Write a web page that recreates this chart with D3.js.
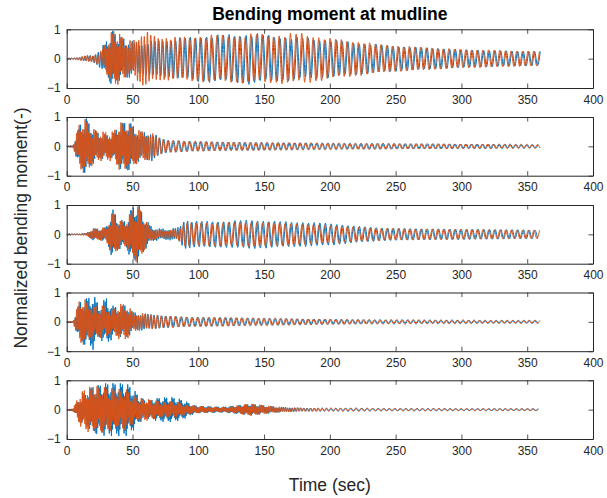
<!DOCTYPE html>
<html><head><meta charset="utf-8">
<script src="https://cdn.jsdelivr.net/npm/d3@7"></script>
<style>body{margin:0;background:#fff}svg{display:block}</style>
</head><body><svg id="c" width="607" height="498"></svg>
<script>
// ---- data (envelope amplitudes, on a shared time grid) ----
const tGrid = [0,5,10,15,20,25,30,35,40,45,50,55,60,65,70,75,80,85,90,95,100,120,140,160,180,200,220,240,260,280,300,320,340,360];

const p1Blue   = [0.01,0.03,0.05,0.1,0.12,0.3,0.6,0.95,0.75,0.7,0.6,0.55,0.55,0.6,0.62,0.65,0.65,0.7,0.72,0.75,0.8,0.82,0.88,0.78,0.72,0.65,0.55,0.47,0.4,0.36,0.31,0.28,0.26,0.24];
const p1Orange = [0.01,0.03,0.06,0.12,0.12,0.2,0.55,1.0,0.85,0.65,0.6,0.85,0.95,0.8,0.75,0.75,0.72,0.75,0.75,0.78,0.8,0.82,0.85,0.85,0.88,0.7,0.6,0.48,0.42,0.37,0.32,0.3,0.27,0.25];
const p1Period = [2,2,2,2,2,2,1,0.9,0.9,1.2,1.6,2,2.4,2.8,3,3.2,3.4,3.6,3.8,4,4.2,4.3,4.3,4.3,4.3,4.3,4.3,4.3,4.3,4.3,4.3,4.3,4.3,4.3];

const p2Blue   = [0.01,0.05,0.75,0.95,0.6,0.45,0.4,0.4,0.75,0.85,0.75,0.5,0.5,0.5,0.3,0.22,0.2,0.2,0.18,0.17,0.17,0.15,0.14,0.13,0.12,0.11,0.1,0.1,0.09,0.09,0.08,0.08,0.07,0.06];
const p2Orange = [0.01,0.05,0.85,0.95,0.6,0.5,0.5,0.5,0.8,0.85,0.7,0.55,0.5,0.45,0.3,0.22,0.2,0.2,0.18,0.17,0.17,0.15,0.14,0.13,0.12,0.11,0.1,0.1,0.09,0.09,0.08,0.08,0.07,0.06];
const p2Period = [1.5,1.2,0.9,0.9,1,1,1,1,0.9,0.9,1,1.2,1.5,2,3,3.6,4,4.2,4.2,4.2,4.2,4.2,4.2,4.2,4.2,4.2,4.2,4.2,4.2,4.2,4.2,4.2,4.2,4.2];

const p3Blue   = [0.02,0.03,0.03,0.05,0.2,0.2,0.25,0.85,0.5,0.45,0.95,1.0,0.5,0.25,0.2,0.2,0.2,0.25,0.5,0.45,0.45,0.45,0.5,0.45,0.42,0.38,0.28,0.22,0.2,0.19,0.18,0.17,0.16,0.15];
const p3Orange = [0.02,0.03,0.03,0.05,0.2,0.2,0.25,0.8,0.45,0.45,0.9,0.95,0.45,0.2,0.15,0.15,0.15,0.2,0.4,0.4,0.4,0.4,0.42,0.4,0.35,0.3,0.25,0.2,0.19,0.18,0.17,0.16,0.15,0.14];
const p3Period = [2,2,2,1.2,1,1,1,0.9,1,1,0.9,0.9,1,1.2,1.4,1.5,1.6,2,3,3.5,4,4.3,4.3,4.3,4.3,4.3,4.3,4.3,4.3,4.3,4.3,4.3,4.3,4.3];

const p4Blue   = [0.02,0.03,0.7,0.8,0.95,0.55,0.85,0.55,0.5,0.6,0.35,0.3,0.28,0.25,0.22,0.2,0.2,0.18,0.17,0.16,0.16,0.15,0.13,0.12,0.1,0.09,0.08,0.07,0.07,0.06,0.06,0.05,0.05,0.05];
const p4Orange = [0.02,0.05,0.8,0.75,0.6,0.55,0.55,0.45,0.6,0.65,0.35,0.3,0.28,0.25,0.22,0.2,0.2,0.18,0.17,0.16,0.16,0.15,0.13,0.12,0.1,0.09,0.08,0.07,0.07,0.06,0.06,0.05,0.05,0.05];
const p4Period = [1.5,1.2,0.9,0.9,0.9,1,1,1,1,1,1.2,1.5,2,2.5,3,3.5,4,4.2,4.2,4.2,4.2,4.2,4.2,4.2,4.2,4.2,4.2,4.2,4.2,4.2,4.2,4.2,4.2,4.2];

const p5Blue   = [0.01,0.05,0.35,0.55,0.8,0.85,0.9,0.9,0.9,0.9,0.75,0.45,0.3,0.35,0.4,0.42,0.42,0.38,0.3,0.18,0.12,0.1,0.2,0.1,0.06,0.05,0.05,0.04,0.04,0.04,0.035,0.035,0.03,0.03];
const p5Orange = [0.01,0.06,0.55,0.75,0.8,0.8,0.75,0.72,0.7,0.7,0.5,0.4,0.38,0.32,0.3,0.28,0.28,0.25,0.2,0.15,0.12,0.08,0.2,0.1,0.06,0.05,0.05,0.04,0.04,0.04,0.035,0.035,0.03,0.03];
const p5Period = [1,1,0.8,0.8,0.8,0.8,0.8,0.8,0.8,0.8,0.8,0.8,0.8,0.8,0.8,0.8,0.8,0.8,0.8,0.8,0.8,0.8,0.8,1.2,2.5,3.5,4.2,4.2,4.2,4.2,4.2,4.2,4.2,4.2];

// relative heights of successive peaks in the irregular parts
const peakPattern = [1,0.55,0.85,0.4,0.95,0.7,0.6,0.9,0.5,0.8,0.65,1,0.45,0.75];

const xTicks = [0,50,100,150,200,250,300,350,400];
const yTicks = [-1,0,1];
const titleText = "Bending moment at mudline";
const xLabelText = "Time (sec)";
const yLabelText = "Normalized bending moment(-)";

const panels = [
  {blue:p1Blue, orange:p1Orange, period:p1Period},
  {blue:p2Blue, orange:p2Orange, period:p2Period},
  {blue:p3Blue, orange:p3Orange, period:p3Period},
  {blue:p4Blue, orange:p4Orange, period:p4Period},
  {blue:p5Blue, orange:p5Orange, period:p5Period}
];

// ---- layout ----
const left = 66.7, right = 593;
const tops = [29.3, 117, 205, 292.5, 380.3];
const ph = 58.7;
const blueC = "#0072BD", orangeC = "#D95319", axC = "#262626";
const font = "'Liberation Sans', Arial, Helvetica, sans-serif";

const svg = d3.select("#c");
const x = d3.scaleLinear().domain([0,400]).range([left,right]);

function build(env, per, phaseFrac, kStart){
  const e = d3.scaleLinear(tGrid, env).clamp(true);
  const p = d3.scaleLinear(tGrid, per).clamp(true);
  const pts = [[0,0]];
  let t = phaseFrac * p(0), k = kStart;
  while (t <= 360) {
    const P = p(t), A = e(t);
    const w = Math.max(0.3 * A, Math.min(1, Math.max(0, (3 - P)/2)));
    const f = 1 - (1 - peakPattern[k % peakPattern.length]) * w;
    pts.push([t, (k % 2 ? -1 : 1) * A * f]);
    t += P/2; k++;
  }
  return pts;
}

panels.forEach((pn, i) => {
  const top = tops[i];
  const y = d3.scaleLinear().domain([-1,1]).range([top+ph, top]);
  const g = svg.append("g");
  const cid = "clip"+i;
  svg.append("clipPath").attr("id", cid).append("rect")
    .attr("x", left).attr("y", top).attr("width", right-left).attr("height", ph);
  const line = d3.line().x(d=>x(d[0])).y(d=>y(d[1])).curve(d3.curveMonotoneX);
  g.append("path").datum(build(pn.blue, pn.period, 0, 0))
    .attr("d", line).attr("fill","none").attr("stroke",blueC).attr("stroke-width",1)
    .attr("clip-path",`url(#${cid})`);
  g.append("path").datum(build(pn.orange, pn.period, 0.35, 3))
    .attr("d", line).attr("fill","none").attr("stroke",orangeC).attr("stroke-width",1)
    .attr("clip-path",`url(#${cid})`);

  // axes (MATLAB style: ticks inside, box on)
  const tl = 4.5;
  const xb = d3.axisBottom(x).tickValues(xTicks).tickSizeInner(-tl).tickSizeOuter(0).tickPadding(7);
  const xt = d3.axisTop(x).tickValues(xTicks).tickSizeInner(-tl).tickSizeOuter(0).tickFormat("");
  const yl = d3.axisLeft(y).tickValues(yTicks).tickSizeInner(-tl).tickSizeOuter(0).tickPadding(6).tickFormat(d3.format("d"));
  const yr = d3.axisRight(y).tickValues(yTicks).tickSizeInner(-tl).tickSizeOuter(0).tickFormat("");
  [
    g.append("g").attr("transform",`translate(0,${top+ph})`).call(xb),
    g.append("g").attr("transform",`translate(0,${top})`).call(xt),
    g.append("g").attr("transform",`translate(${left},0)`).call(yl),
    g.append("g").attr("transform",`translate(${right},0)`).call(yr)
  ].forEach(a => {
    a.selectAll("path.domain").attr("stroke",axC).attr("stroke-width",1);
    a.selectAll(".tick line").attr("stroke",axC).attr("stroke-width",0.8);
    a.selectAll("text").attr("fill",axC).style("font-family",font).style("font-size","12px");
  });
});

svg.append("text").attr("x",(left+right)/2).attr("y",20).attr("text-anchor","middle")
  .style("font-family",font).style("font-size","17.5px").style("font-weight","bold").attr("fill","#000")
  .text(titleText);
svg.append("text").attr("x",(left+right)/2).attr("y",491).attr("text-anchor","middle")
  .style("font-family",font).style("font-size","17.5px").attr("fill",axC)
  .text(xLabelText);
svg.append("text").attr("transform",`translate(27,228) rotate(-90)`).attr("text-anchor","middle")
  .style("font-family",font).style("font-size","17.5px").attr("fill",axC)
  .text(yLabelText);
</script></body></html>
